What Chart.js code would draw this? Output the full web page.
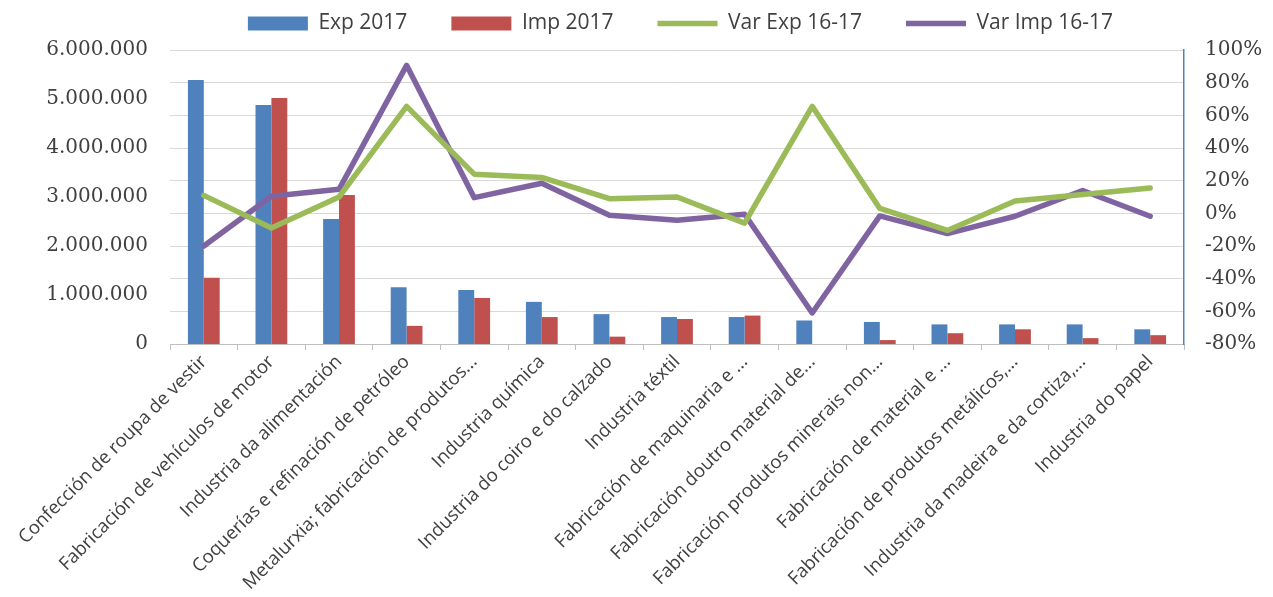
<!DOCTYPE html>
<html>
<head>
<meta charset="utf-8">
<script src="https://cdn.jsdelivr.net/npm/chart.js@4.4.1/dist/chart.umd.min.js"></script>
<style>
  html, body { margin: 0; background: #fff; }
</style>
</head>
<body>
<canvas id="chart" width="1273" height="597"></canvas>
<script>
// Sectors (truncated the same way as the original labels)
const categories = [
  'Confección de roupa de vestir',
  'Fabricación de vehículos de motor',
  'Industria da alimentación',
  'Coquerías e refinación de petróleo',
  'Metalurxia; fabricación de produtos...',
  'Industria química',
  'Industria do coiro e do calzado',
  'Industria téxtil',
  'Fabricación de maquinaria e ...',
  'Fabricación doutro material de...',
  'Fabricación produtos minerais non...',
  'Fabricación de material e ...',
  'Fabricación de produtos metálicos,...',
  'Industria da madeira e da cortiza,...',
  'Industria do papel',
];

const exp2017 = [5390000, 4880000, 2550000, 1160000, 1100000, 860000, 610000, 550000, 550000, 480000, 450000, 400000, 400000, 400000, 300000];
const imp2017 = [1350000, 5020000, 3040000, 370000, 940000, 550000, 150000, 510000, 580000, 0, 80000, 220000, 300000, 120000, 180000];

// variation 2016-2017, in %
const varExp = [11, -9, 10, 65.5, 24, 22, 9, 10, -6, 65.5, 3, -10.5, 7.5, 11.5, 15.5];
const varImp = [-20, 10.5, 14.7, 90.6, 9.6, 18.4, -1.2, -4.3, -0.6, -61, -1.6, -12.4, -1.8, 14, -1.8];

const leftTicks = [0, 1000000, 2000000, 3000000, 4000000, 5000000, 6000000];
const rightTicks = [-80, -60, -40, -20, 0, 20, 40, 60, 80, 100];

const BLUE = '#4F81BD', RED = '#C0504D', GREEN = '#9BBB59', PURPLE = '#8064A2';
const TEXT = '#404040';
const SANS = "'Open Sans', sans-serif";
const SERIF = "'DejaVu Serif', serif";

const fmtThousands = v => String(v).replace(/\B(?=(\d{3})+(?!\d))/g, '.');

// legend box fixed height + nudged to where Excel put it
const legendTweak = {
  id: 'legendTweak',
  beforeInit(chart) {
    const lg = chart.legend;
    const fit = lg.fit;
    lg.fit = function () { fit.call(this); this.height = 50; };
    const draw = lg.draw;
    lg.draw = function () {
      const { top, left } = this;
      this.top = top - 31;
      this.left = left + 88;
      draw.call(this);
      this.top = top;
      this.left = left;
    };
  }
};

new Chart(document.getElementById('chart').getContext('2d'), {
  type: 'bar',
  data: {
    labels: categories,
    datasets: [
      { label: 'Exp 2017', data: exp2017, backgroundColor: BLUE, yAxisID: 'y', order: 1,
        barPercentage: 1, categoryPercentage: 0.47 },
      { label: 'Imp 2017', data: imp2017, backgroundColor: RED, yAxisID: 'y', order: 1,
        barPercentage: 1, categoryPercentage: 0.47 },
      { type: 'line', label: 'Var Exp 16-17', data: varExp, borderColor: GREEN, backgroundColor: GREEN,
        yAxisID: 'y1', borderWidth: 5.5, pointRadius: 0, tension: 0, order: 0,
        borderCapStyle: 'round', borderJoinStyle: 'round' },
      { type: 'line', label: 'Var Imp 16-17', data: varImp, borderColor: PURPLE, backgroundColor: PURPLE,
        yAxisID: 'y1', borderWidth: 5.5, pointRadius: 0, tension: 0, order: 0,
        borderCapStyle: 'round', borderJoinStyle: 'round' },
    ]
  },
  options: {
    responsive: false,
    animation: false,
    layout: { padding: 0 },
    plugins: {
      tooltip: { enabled: false },
      legend: {
        position: 'top',
        labels: {
          color: TEXT,
          font: { family: SANS, size: 21 },
          usePointStyle: true,
          pointStyleWidth: 60,
          boxHeight: 14,
          padding: 44,
          sort: (a, b) => a.datasetIndex - b.datasetIndex,
          generateLabels(chart) {
            const items = Chart.defaults.plugins.legend.labels.generateLabels(chart);
            items.forEach(it => { it.pointStyle = chart.data.datasets[it.datasetIndex].type === 'line' ? 'line' : 'rect'; });
            return items;
          }
        }
      }
    },
    scales: {
      x: {
        offset: true,
        grid: { display: true, drawOnChartArea: false, offset: true, tickLength: 6, color: '#BFBFBF' },
        border: { display: true, color: '#BFBFBF' },
        ticks: {
          color: TEXT, font: { family: SANS, size: 18.5 },
          minRotation: 45, maxRotation: 45, autoSkip: false, padding: 1
        },
        afterFit: s => { s.height = 597 - 344; s.paddingLeft = 0; s.paddingRight = 0; }
      },
      y: {
        position: 'left', min: 0, max: 6000000,
        afterBuildTicks: s => { s.ticks = leftTicks.map(v => ({ value: v })); },
        grid: { display: false, drawTicks: false },
        border: { display: false },
        ticks: { color: TEXT, font: { family: SERIF, size: 20 }, padding: 22,
          callback: v => fmtThousands(v) },
        afterFit: s => { s.width = 170; }
      },
      y1: {
        position: 'right', min: -80, max: 100,
        afterBuildTicks: s => { s.ticks = rightTicks.map(v => ({ value: v })); },
        grid: { color: '#D9D9D9', drawTicks: false },
        border: { display: true, color: BLUE, width: 1.5 },
        ticks: { color: TEXT, font: { family: SERIF, size: 20 }, padding: 21,
          callback: v => v + '%' },
        afterFit: s => { s.width = 1273 - 1184; }
      }
    }
  },
  plugins: [legendTweak]
});
</script>
</body>
</html>
